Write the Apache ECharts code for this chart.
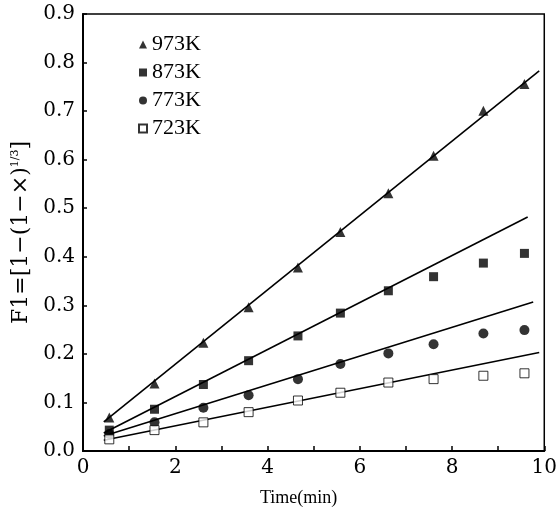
<!DOCTYPE html>
<html>
<head>
<meta charset="utf-8">
<script src="https://cdn.jsdelivr.net/npm/echarts@6/dist/echarts.min.js"></script>
<style>html,body{margin:0;padding:0;background:#fff}#c{width:560px;height:515px}</style>
</head>
<body>
<div id="c"></div>
<script>
// Time values (min) of the measured points
const times = [0.57, 1.55, 2.61, 3.59, 4.66, 5.58, 6.62, 7.60, 8.68, 9.57];
// F1 values per temperature
const s973 = [0.069, 0.139, 0.223, 0.296, 0.378, 0.451, 0.531, 0.608, 0.701, 0.756];
const s873 = [0.043, 0.086, 0.137, 0.186, 0.237, 0.284, 0.330, 0.359, 0.387, 0.407];
const s773 = [0.035, 0.059, 0.089, 0.115, 0.148, 0.179, 0.201, 0.220, 0.242, 0.249];
const s723 = [0.024, 0.043, 0.059, 0.080, 0.104, 0.120, 0.141, 0.148, 0.155, 0.160];
// Fitted straight lines: [x start, y start], [x end, y end]
const fit973 = [[0.45, 0.060], [9.89, 0.783]];
const fit873 = [[0.45, 0.037], [9.64, 0.482]];
const fit773 = [[0.45, 0.031], [9.76, 0.307]];
const fit723 = [[0.45, 0.022], [9.89, 0.203]];
const names = ['973K', '873K', '773K', '723K'];
const xTicks = [0, 2, 4, 6, 8, 10];

const pts = arr => times.map((t, i) => [t, arr[i]]);
const chart = echarts.init(document.getElementById('c'));
const lineSeries = fit => ({
  type: 'line', data: fit, symbol: 'none', silent: true, z: 2,
  lineStyle: {color: '#000', width: 1.6}
});
const scatter = (name, arr, symbol, size, style) => ({
  type: 'scatter', name, data: pts(arr), symbol, symbolSize: size, z: 5,
  itemStyle: style
});
chart.setOption({
  animation: false,
  backgroundColor: '#fff',
  grid: {left: 83, right: 14, top: 14, bottom: 64, show: true, borderColor: '#000', borderWidth: 1.5, backgroundColor: 'transparent'},
  legend: {
    orient: 'vertical', left: 133, top: 28,
    itemWidth: 8, itemHeight: 8, itemGap: 5,
    textStyle: {fontFamily: 'Liberation Serif', fontSize: 22, color: '#000', lineHeight: 23},
    data: names
  },
  xAxis: {
    type: 'value', min: 0, max: 10, interval: 1,
    name: 'Time(min)', nameLocation: 'middle', nameGap: 38,
    nameTextStyle: {fontFamily: 'Liberation Serif', fontSize: 18, color: '#000', padding: [0, 30, 0, 0]},
    axisLine: {lineStyle: {color: '#000', width: 2}},
    axisTick: {inside: true, length: 5, lineStyle: {color: '#000', width: 1.5}},
    axisLabel: {margin: 7, color: '#000', fontFamily: 'DejaVu Serif', fontSize: 20,
      formatter: v => xTicks.indexOf(v) >= 0 ? String(v) : ''},
    splitLine: {show: false}
  },
  yAxis: {
    type: 'value', min: 0, max: 0.9, interval: 0.1,
    name: '{a|F1=[1−(1−×)}{s|1/3}{a|]}', nameLocation: 'middle', nameGap: 44, nameRotate: 90,
    nameTextStyle: {
      color: '#000',
      rich: {
        a: {fontFamily: 'DejaVu Serif', fontSize: 22, color: '#000', lineHeight: 24},
        s: {fontFamily: 'DejaVu Serif', fontSize: 11, color: '#000', verticalAlign: 'top', lineHeight: 24, padding: [0, 0, 8, 0]}
      }
    },
    axisLine: {lineStyle: {color: '#000', width: 2}},
    axisTick: {inside: true, length: 4, lineStyle: {color: '#000', width: 1.5}},
    axisLabel: {margin: 8, color: '#000', fontFamily: 'DejaVu Serif', fontSize: 20,
      formatter: v => v.toFixed(1)},
    splitLine: {show: false}
  },
  series: [
    lineSeries(fit973), lineSeries(fit873), lineSeries(fit773), lineSeries(fit723),
    scatter('973K', s973, 'triangle', 10, {color: '#000'}),
    scatter('873K', s873, 'rect', 9, {color: '#000'}),
    scatter('773K', s773, 'circle', 10, {color: '#000'}),
    scatter('723K', s723, 'rect', 9, {color: '#fff', borderColor: '#000', borderWidth: 1})
  ]
});
</script>
</body>
</html>
